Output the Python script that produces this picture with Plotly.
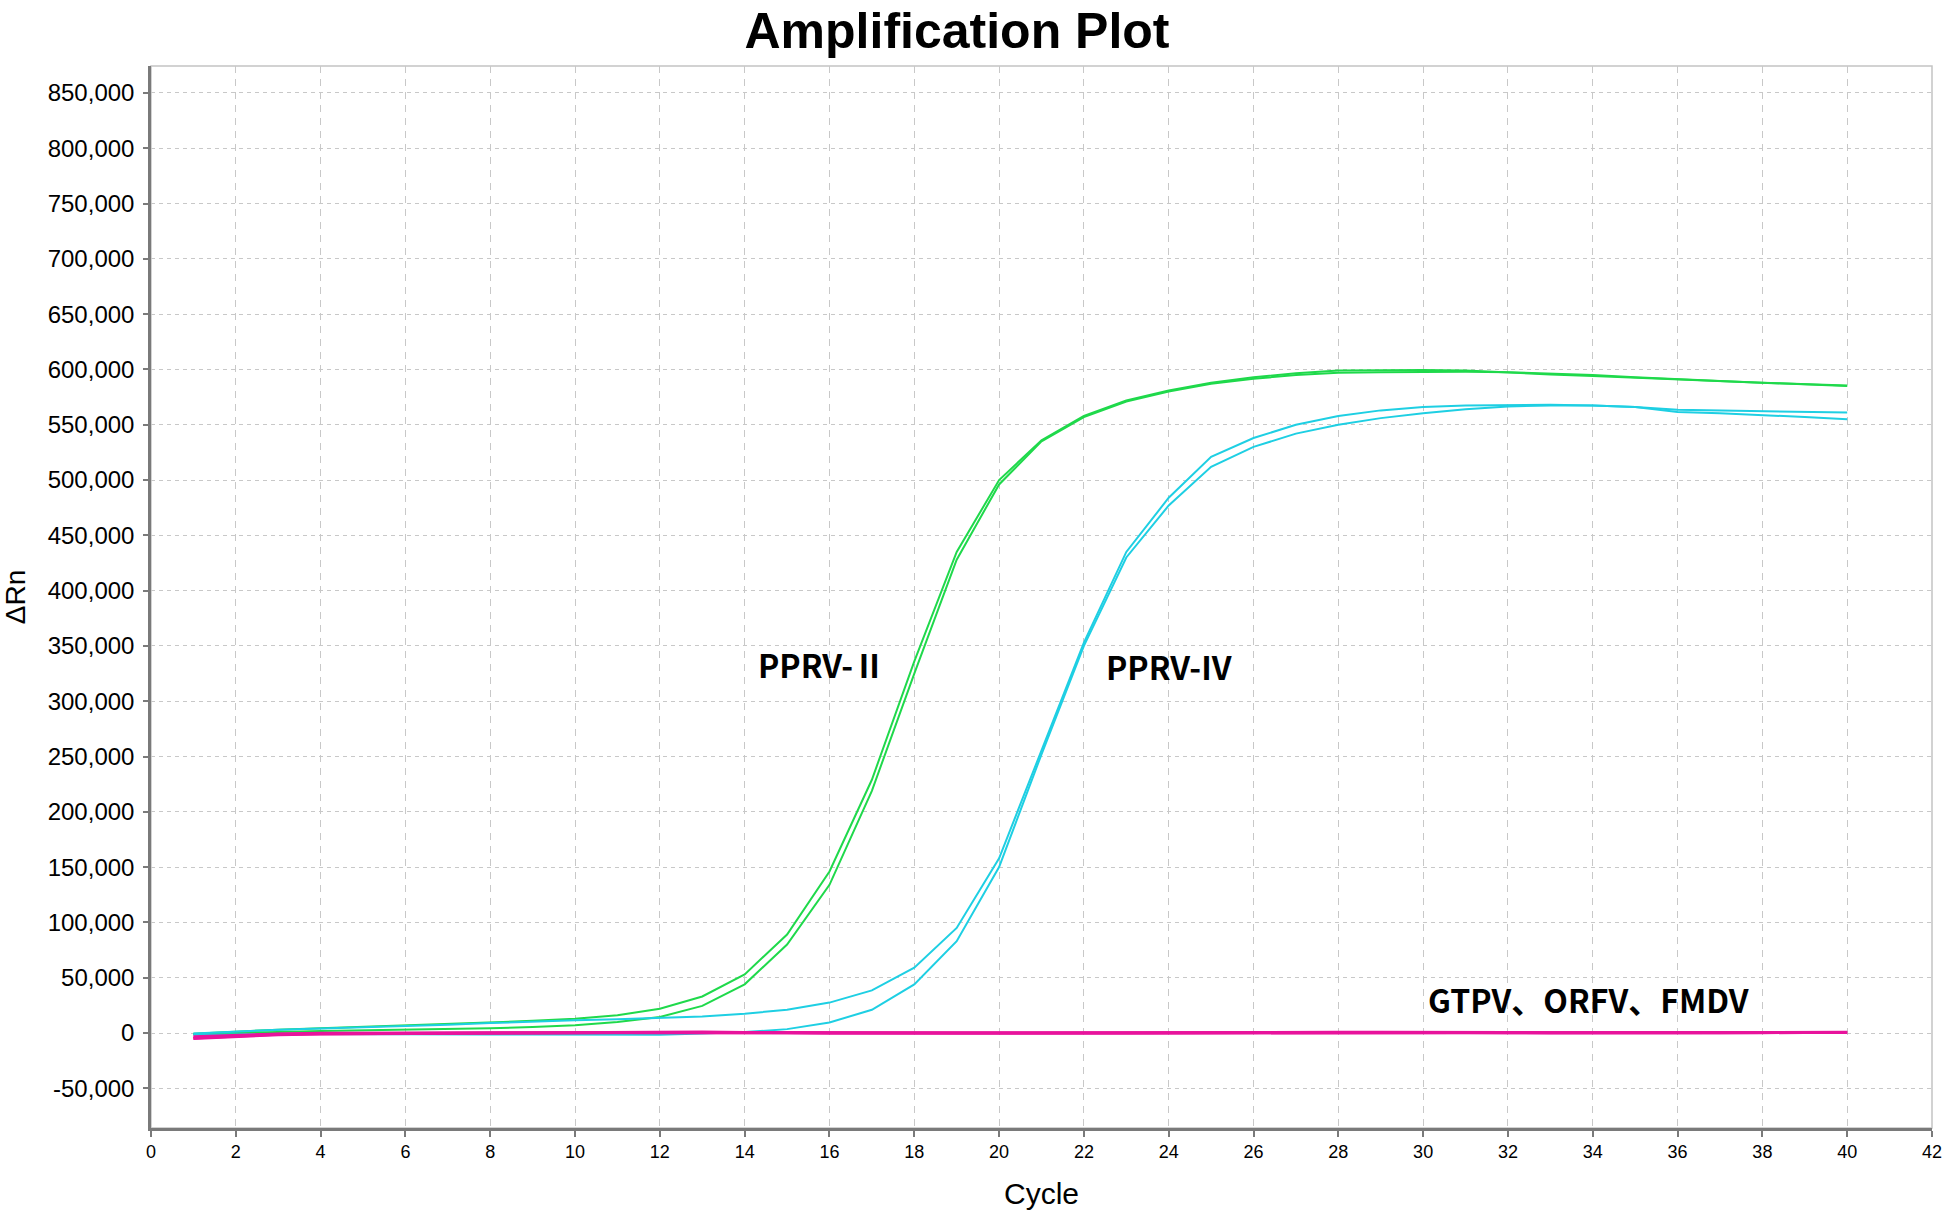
import plotly.graph_objects as go

# ---------------- data ----------------
cycles = list(range(1, 41))

pprv2_rep1 = [-600, 1500, 3000, 4200, 5500, 7000, 8500, 10000, 11000, 13000,
              16000, 22000, 33000, 53000, 89000, 146000, 229000, 336000, 435000, 500000,
              536000, 558000, 572000, 581000, 588000, 593000, 596500, 599000, 599500, 599500,
              599000, 597000, 595500, 594000, 592500, 590500, 589000, 588000, 586500, 585000]

pprv2_rep2 = [-1200, 200, 1000, 1800, 2400, 3000, 3600, 4300, 5500, 7000,
              10000, 14500, 24500, 44000, 80000, 134000, 219000, 325000, 428000, 496000,
              535000, 557000, 571000, 580000, 587000, 591500, 595000, 597000, 597500, 598000,
              598000, 597500, 596500, 595000, 593000, 591000, 589500, 588000, 586500, 585500]

pprv4_rep1 = [-500, 1500, 3000, 4000, 5000, 6000, 7500, 9000, 10500, 11500,
              12500, 13500, 15000, 17500, 21000, 27500, 38500, 59000, 95000, 158000,
              256000, 353000, 435000, 484000, 521000, 538000, 550000, 558000, 563000, 566000,
              567500, 568000, 568000, 567500, 566000, 563500, 563000, 562500, 562000, 561000]

pprv4_rep2 = [-1500, -1000, -1000, -1000, -1200, -1200, -1300, -1300, -1300, -1500,
              -1500, -1500, -500, 800, 3500, 9500, 21000, 44000, 83000, 150000,
              252000, 350000, 430000, 477000, 512000, 530000, 542000, 550000, 556000, 560500,
              564000, 566500, 567500, 567500, 566000, 561500, 560500, 559000, 557000, 555000]

gtpv = [-4500, -3000, -1200, -600, -400, -200, 0, 200, 300, 400,
        500, 700, 800, 500, 300, 100, 0, 0, -100, 0,
        0, 100, 0, 100, 200, 300, 400, 600, 700, 800,
        600, 400, 300, 200, 200, 300, 400, 500, 600, 600]
orfv = [-3500, -2000, -800, -300, -100, 0, 100, 200, 300, 300,
        400, 500, 400, 300, 200, 100, 0, 100, 0, -100,
        0, 0, 100, 200, 200, 100, 200, 300, 400, 500,
        400, 300, 200, 200, 100, 200, 300, 400, 400, 500]
fmdv = [-5000, -3500, -1500, -800, -500, -300, -200, 0, 100, 200,
        300, 400, 500, 400, 200, 0, -100, 0, 0, 0,
        100, 0, 0, 100, 100, 200, 300, 400, 500, 600,
        500, 300, 200, 100, 100, 200, 300, 300, 400, 500]

y_ticks = list(range(-50000, 850001, 50000))
y_tick_labels = [f"{v:,}" for v in y_ticks]
x_ticks = list(range(0, 43, 2))

labels = ["PPRV-Ⅱ", "PPRV-IV", "GTPV、ORFV、FMDV"]
label_x = [15.8, 24.0, 33.9]
label_y = [334000, 332000, 31000]

# ---------------- styles ----------------
GREEN = "#1fd94b"
CYAN = "#1ecfe3"
MAGENTA = "#e8139c"

fig = go.Figure()
for ys in (pprv2_rep1, pprv2_rep2):
    fig.add_trace(go.Scatter(x=cycles, y=ys, mode="lines",
                             line=dict(color=GREEN, width=2), showlegend=False))
for ys in (pprv4_rep1, pprv4_rep2):
    fig.add_trace(go.Scatter(x=cycles, y=ys, mode="lines",
                             line=dict(color=CYAN, width=2), showlegend=False))
for ys in (gtpv, orfv, fmdv):
    fig.add_trace(go.Scatter(x=cycles, y=ys, mode="lines",
                             line=dict(color=MAGENTA, width=3), showlegend=False))

for t, lx, ly in zip(labels, label_x, label_y):
    fig.add_annotation(x=lx, y=ly, text=t, showarrow=False,
                       font=dict(family="Noto Sans CJK SC", size=32, color="#000000", weight="bold"),
                       xanchor="center", yanchor="middle")

fig.update_layout(
    width=1944, height=1211,
    margin=dict(l=151, r=12, t=66, b=83),
    paper_bgcolor="white", plot_bgcolor="white",
    title=dict(text="Amplification Plot", x=957 / 1944, xref="container", xanchor="center",
               y=1 - 30 / 1211, yref="container", yanchor="middle",
               font=dict(family="Liberation Sans", size=50, color="#000000", weight="bold")),
    font=dict(family="Liberation Sans", color="#000000"),
    shapes=[dict(type="rect", xref="paper", yref="paper", x0=0, x1=1, y0=0, y1=1,
                 line=dict(color="#c4c4c4", width=1.5), layer="below")],
)

fig.update_xaxes(
    range=[0, 42], tickvals=x_ticks, ticktext=[str(v) for v in x_ticks],
    showgrid=True, gridcolor="#c8c8c8", gridwidth=1, griddash="7px,6px",
    zeroline=False, showline=True, linecolor="#7a7a7a", linewidth=2.5,
    ticks="outside", ticklen=6, tickwidth=1.5, tickcolor="#7a7a7a",
    tickfont=dict(family="Liberation Sans", size=18, color="#000000"),
    title=dict(text="Cycle", font=dict(family="Liberation Sans", size=30, color="#000000"),
               standoff=22),
    automargin=False,
)
fig.update_yaxes(
    range=[-85900, 874400], tickvals=y_ticks, ticktext=y_tick_labels,
    showgrid=True, gridcolor="#c8c8c8", gridwidth=1, griddash="4px,4px",
    zeroline=False, showline=True, linecolor="#7a7a7a", linewidth=2.5,
    ticks="outside", ticklen=5, tickwidth=1.5, tickcolor="#7a7a7a",
    tickfont=dict(family="Liberation Sans", size=24, color="#000000"),
    ticklabelstandoff=4,
    title=dict(text="ΔRn", font=dict(family="Liberation Sans", size=28, color="#000000"),
               standoff=22),
    automargin=False,
)

fig.write_html("out.html", config={"displayModeBar": False},
               post_script="document.body.style.margin='0px';document.body.style.overflow='hidden';")
